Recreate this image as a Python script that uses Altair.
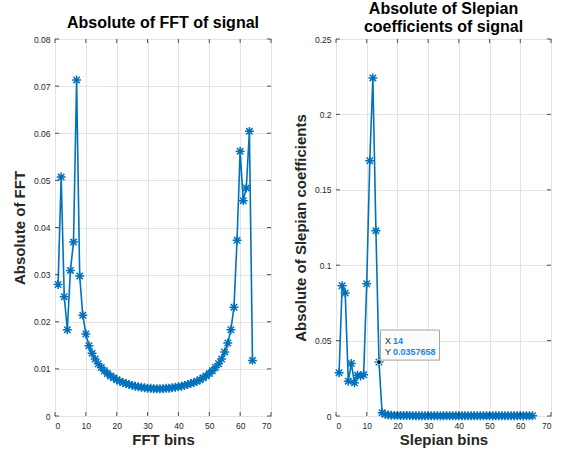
import altair as alt
import pandas as pd

# ---------------- data ----------------
fft_bins = list(range(1, 65))
fft_abs = [0.0279, 0.0507, 0.0253, 0.0183, 0.0309, 0.0369, 0.0713, 0.0297, 0.0214,
           0.0174, 0.0149, 0.0133, 0.0121, 0.0111, 0.0103, 0.0096, 0.0090, 0.0085, 0.0081,
           0.0077, 0.0074, 0.0071, 0.0069, 0.0067, 0.0065, 0.0063, 0.0062, 0.0061, 0.0060,
           0.0059, 0.0059, 0.0058, 0.0058, 0.0058, 0.0058, 0.0059, 0.0059, 0.0060, 0.0061,
           0.0062, 0.0063, 0.0065, 0.0067, 0.0069, 0.0071, 0.0074, 0.0077, 0.0081, 0.0085,
           0.0090, 0.0096, 0.0103, 0.0111, 0.0121, 0.0136, 0.0155, 0.0183, 0.0231, 0.0373,
           0.0562, 0.0457, 0.0484, 0.0604, 0.0118]

slep_bins = list(range(1, 65))
slep_abs = [0.0287, 0.0864, 0.0816, 0.0231, 0.0348, 0.0220, 0.0271, 0.0265, 0.0273,
            0.0877, 0.1693, 0.2242, 0.1228, 0.0357658, 0.0022, 0.0012, 0.0007, 0.0005,
            0.0004, 0.0004, 0.0003, 0.0003, 0.0003, 0.0003, 0.0002, 0.0002, 0.0002, 0.0002,
            0.0002, 0.0002, 0.0002, 0.0002, 0.0002, 0.0002, 0.0002, 0.0002, 0.0002, 0.0002,
            0.0002, 0.0002, 0.0002, 0.0002, 0.0002, 0.0002, 0.0002, 0.0002, 0.0002, 0.0002,
            0.0002, 0.0002, 0.0002, 0.0002, 0.0002, 0.0002, 0.0002, 0.0002, 0.0002, 0.0002,
            0.0002, 0.0002, 0.0002, 0.0002, 0.0002, 0.0002]

x_ticks = [0, 10, 20, 30, 40, 50, 60, 70]
fft_y_ticks = [0, 0.01, 0.02, 0.03, 0.04, 0.05, 0.06, 0.07, 0.08]
slep_y_ticks = [0, 0.05, 0.1, 0.15, 0.2, 0.25]

tip_bin = 14

# ---------------- style ----------------
BLUE = "#0072BD"
DARK = "#262626"
FONT = "Liberation Sans"
ASTERISK = "M-1,0L1,0M0,-1L0,1M-0.72,-0.72L0.72,0.72M-0.72,0.72L0.72,-0.72"
TICK = 4


def panel(xs, ys, yticks, ymax, xtitle, ytitle, title, title_offset, W, H, tip=None):
    df = pd.DataFrame({"bin": xs, "val": ys})
    xsc = alt.Scale(domain=[0, 70], nice=False, zero=False)
    ysc = alt.Scale(domain=[0, ymax], nice=False)
    xax = alt.Axis(values=x_ticks, title=xtitle, format="d", grid=True,
                   labelPadding=5, titlePadding=3)
    yax = alt.Axis(values=yticks, title=ytitle, format="~g", grid=True,
                   labelPadding=5, titlePadding=6)
    X = alt.X("bin:Q", scale=xsc, axis=xax)
    Y = alt.Y("val:Q", scale=ysc, axis=yax)

    base = alt.Chart(df)
    line = base.mark_line(color=BLUE, strokeWidth=1.6).encode(x=X, y=Y)
    pts = base.mark_point(shape=ASTERISK, size=80, stroke=BLUE, strokeWidth=1.5,
                          filled=False, opacity=1).encode(x=X, y=Y)

    xt = pd.DataFrame({"bin": x_ticks})
    yt = pd.DataFrame({"val": yticks})
    bt = alt.Chart(xt).mark_rule(color=DARK, strokeWidth=0.8).encode(
        x=X, y=alt.value(H), y2=alt.value(H - TICK))
    tt = alt.Chart(xt).mark_rule(color=DARK, strokeWidth=0.8).encode(
        x=X, y=alt.value(0), y2=alt.value(TICK))
    lt = alt.Chart(yt).mark_rule(color=DARK, strokeWidth=0.8).encode(
        y=Y, x=alt.value(0), x2=alt.value(TICK))
    rt = alt.Chart(yt).mark_rule(color=DARK, strokeWidth=0.8).encode(
        y=Y, x=alt.value(W), x2=alt.value(W - TICK))

    layers = [line, pts, bt, tt, lt, rt]

    if tip is not None:
        tdf = pd.DataFrame({"bin": [tip], "val": [ys[tip - 1]],
                            "xl": ["X"], "yl": ["Y"],
                            "xv": [str(tip)], "yv": [f"{ys[tip - 1]:.7f}".rstrip("0")]})
        tb = alt.Chart(tdf)
        box = tb.mark_point(shape="M-1,-0.51L1,-0.51L1,0.51L-1,0.51Z", size=3481,
                            filled=True, fill="#fbfbfb", stroke="#a6a6a6", strokeWidth=1,
                            opacity=1, xOffset=31, yOffset=-17).encode(x=X, y=Y)
        dot = tb.mark_point(shape="circle", size=22, filled=True, fill="black",
                            stroke="white", strokeWidth=0.8, opacity=1).encode(x=X, y=Y)
        t1a = tb.mark_text(align="left", baseline="middle", dx=6, dy=-21, font=FONT,
                           fontSize=9, color=DARK).encode(x=X, y=Y, text="xl:N")
        t1b = tb.mark_text(align="left", baseline="middle", dx=14, dy=-21, font=FONT,
                           fontSize=9, fontWeight="bold", color="#1a86e0").encode(
            x=X, y=Y, text="xv:N")
        t2a = tb.mark_text(align="left", baseline="middle", dx=6, dy=-10, font=FONT,
                           fontSize=9, color=DARK).encode(x=X, y=Y, text="yl:N")
        t2b = tb.mark_text(align="left", baseline="middle", dx=14, dy=-10, font=FONT,
                           fontSize=9, fontWeight="bold", color="#1a86e0").encode(
            x=X, y=Y, text="yv:N")
        layers += [box, dot, t1a, t1b, t2a, t2b]

    return alt.layer(*layers).properties(
        width=W, height=H,
        title=alt.TitleParams(text=title, offset=title_offset, lineHeight=18),
    )


left = panel(fft_bins, fft_abs, fft_y_ticks, 0.08, "FFT bins", "Absolute of FFT",
             "Absolute of FFT of signal", 4, 216, 377)
right = panel(slep_bins, slep_abs, slep_y_ticks, 0.25, "Slepian bins",
              "Absolute of Slepian coefficients",
              ["Absolute of Slepian", "coefficients of signal"], 0, 215, 377, tip=tip_bin)

chart = alt.hconcat(left, right, spacing=20).properties(
    padding={"left": 11, "top": 0, "right": 0, "bottom": 0},
    background="white",
).configure_view(
    stroke=DARK, strokeWidth=1
).configure_axis(
    domain=False, ticks=False,
    labelFont=FONT, labelFontSize=8.5, labelColor=DARK,
    titleFont=FONT, titleFontSize=15, titleFontWeight="bold", titleColor=DARK,
    gridColor="#e3e3e3", gridWidth=1,
).configure_title(
    font=FONT, fontSize=16, fontWeight="bold", color="black", anchor="middle",
)

chart.save("out.html", embed_options={"renderer": "svg", "actions": False})
